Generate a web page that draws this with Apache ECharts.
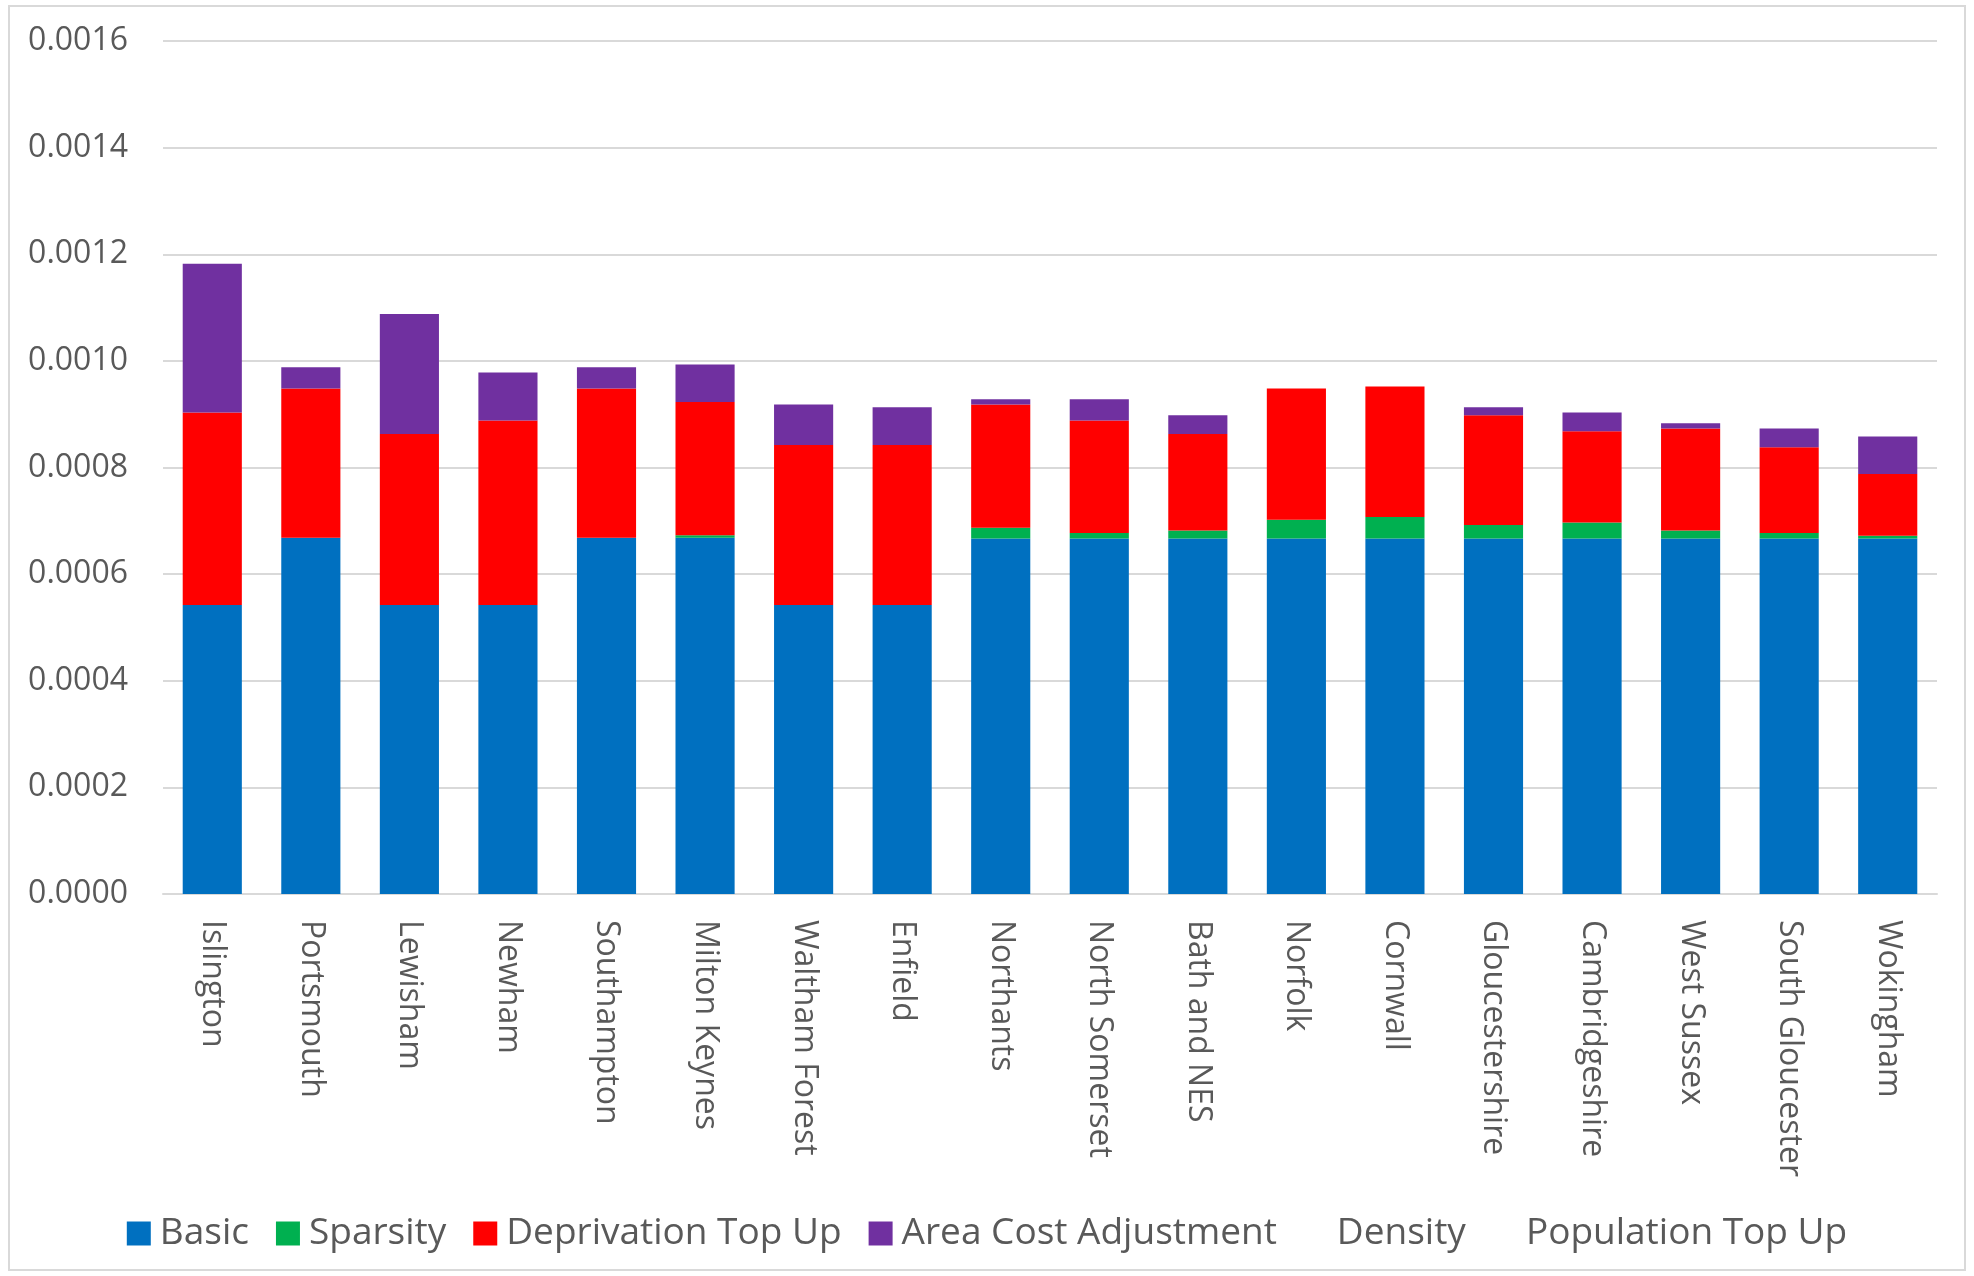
<!DOCTYPE html>
<html>
<head>
<meta charset="utf-8">
<script src="https://cdn.jsdelivr.net/npm/echarts@6/dist/echarts.min.js"></script>
<style>
  html, body { margin: 0; padding: 0; background: #fff; }
  #chart { width: 1974px; height: 1276px; }
</style>
</head>
<body>
<div id="chart"></div>
<script>
// authorities along the x axis
const councils = [
  "Islington", "Portsmouth", "Lewisham", "Newham", "Southampton", "Milton Keynes",
  "Waltham Forest", "Enfield", "Northants", "North Somerset", "Bath and NES", "Norfolk",
  "Cornwall", "Gloucestershire", "Cambridgeshire", "West Sussex", "South Gloucester", "Wokingham"
];

// stacked components
const basic = [0.000542, 0.000668, 0.000542, 0.000542, 0.000668, 0.000668, 0.000542, 0.000542,
  0.000667, 0.000667, 0.000667, 0.000667, 0.000667, 0.000667, 0.000667, 0.000667, 0.000667, 0.000667];
const sparsity = [0, 0, 0, 0, 0, 0.000005, 0, 0,
  0.000020, 0.000010, 0.000015, 0.000035, 0.000040, 0.000025, 0.000030, 0.000015, 0.000010, 0.000005];
const deprivation = [0.000361, 0.000280, 0.000321, 0.000346, 0.000280, 0.000250, 0.000300, 0.000300,
  0.000231, 0.000211, 0.000181, 0.000246, 0.000245, 0.000206, 0.000171, 0.000191, 0.000161, 0.000116];
const areaCost = [0.000279, 0.000040, 0.000225, 0.000090, 0.000040, 0.000070, 0.000076, 0.000071,
  0.000010, 0.000040, 0.000035, 0, 0, 0.000015, 0.000035, 0.000010, 0.000035, 0.000070];
const density = councils.map(() => 0);
const popTopUp = councils.map(() => 0);

const yTicks = { min: 0, max: 0.0016, step: 0.0002 };

const textGrey = "#595959";
const fontName = "'Open Sans', 'Noto Sans', sans-serif";

const chart = echarts.init(document.getElementById("chart"));

function stack(name, data, color) {
  return {
    name: name,
    type: "bar",
    stack: "total",
    data: data,
    barWidth: "60%",
    itemStyle: { color: color },
  };
}

const option = {
  animation: false,
  backgroundColor: "#fff",
  textStyle: { fontFamily: fontName },
  graphic: [
    {
      type: "rect",
      shape: { x: 9, y: 6, width: 1956, height: 1264 },
      style: { fill: "none", stroke: "#d9d9d9", lineWidth: 2 },
      silent: true,
    },
  ],
  grid: { left: 163, right: 37, top: 41, bottom: 382 },
  legend: {
    left: "center",
    top: 1210,
    itemWidth: 24,
    itemHeight: 24,
    itemGap: 27,
    icon: "rect",
    textStyle: {
      fontSize: 37,
      color: textGrey,
      fontFamily: fontName,
      padding: [0, 0, 0, 4],
    },
    data: ["Basic", "Sparsity", "Deprivation Top Up", "Area Cost Adjustment", "Density", "Population Top Up"],
  },
  xAxis: {
    type: "category",
    data: councils,
    axisTick: { show: false },
    axisLine: { lineStyle: { color: "#d9d9d9", width: 2 } },
    axisLabel: {
      interval: 0,
      rotate: -90,
      margin: 26,
      fontSize: 32,
      color: textGrey,
      fontFamily: fontName,
    },
  },
  yAxis: {
    type: "value",
    min: yTicks.min,
    max: yTicks.max,
    interval: yTicks.step,
    axisLine: { show: false },
    axisTick: { show: false },
    splitLine: { lineStyle: { color: "#d9d9d9", width: 2 } },
    axisLabel: {
      margin: 35,
      fontSize: 32,
      color: textGrey,
      fontFamily: fontName,
      formatter: (v) => v.toFixed(4),
    },
  },
  series: [
    stack("Basic", basic, "#0070C0"),
    stack("Sparsity", sparsity, "#00B050"),
    stack("Deprivation Top Up", deprivation, "#FF0000"),
    stack("Area Cost Adjustment", areaCost, "#7030A0"),
    stack("Density", density, "rgba(0,0,0,0)"),
    stack("Population Top Up", popTopUp, "rgba(0,0,0,0)"),
  ],
};

chart.setOption(option);
</script>
</body>
</html>
